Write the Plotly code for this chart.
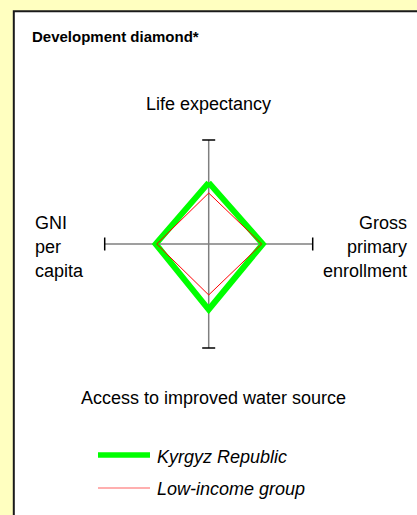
import plotly.graph_objects as go

# ---- data ----
axis_labels = ["Life expectancy", "Gross primary enrollment",
               "Access to improved water source", "GNI per capita"]
series_names = ["Kyrgyz Republic", "Low-income group"]
kyrgyz_values = [0.59, 0.52, 0.63, 0.51]      # life, enrollment, water, GNI
lowincome_values = [0.49, 0.51, 0.49, 0.50]
axis_extent = 1.0

W, H = 417, 515
CX, CY, SCALE = 208.7, 244.0, 104.0  # pixel centre of the diamond and px per unit

def px(x):
    return x / W

def py(y):
    return 1 - y / H

def diamond(vals):
    life, enr, water, gni = vals
    xs = [0, enr, 0, -gni, 0]
    ys = [life, 0, -water, 0, life]
    return xs, ys

fig = go.Figure()

# axes
axis_style = dict(color="#7f7f7f", width=1.5)
fig.add_trace(go.Scatter(x=[-axis_extent, axis_extent], y=[0, 0], mode="lines",
                         line=axis_style, hoverinfo="skip", showlegend=False))
fig.add_trace(go.Scatter(x=[0, 0], y=[-axis_extent, axis_extent], mode="lines",
                         line=axis_style, hoverinfo="skip", showlegend=False))
cap = 6.5 / SCALE
cap_style = dict(color="#000000", width=1.5)
for x0, y0, x1, y1 in [(-cap, axis_extent, cap, axis_extent),
                       (-cap, -axis_extent, cap, -axis_extent),
                       (-axis_extent, -cap, -axis_extent, cap),
                       (axis_extent, -cap, axis_extent, cap)]:
    fig.add_trace(go.Scatter(x=[x0, x1], y=[y0, y1], mode="lines", line=cap_style,
                             hoverinfo="skip", showlegend=False))

gx, gy = diamond(kyrgyz_values)
fig.add_trace(go.Scatter(x=gx, y=gy, mode="lines", name=series_names[0],
                         line=dict(color="#00ff00", width=6), showlegend=False))
rx, ry = diamond(lowincome_values)
fig.add_trace(go.Scatter(x=rx, y=ry, mode="lines", name=series_names[1],
                         line=dict(color="#ff0000", width=1), showlegend=False))

# panel
shapes = [dict(type="rect", xref="paper", yref="paper", x0=px(13.8), x1=px(440),
               y0=py(11.3), y1=py(540), fillcolor="white",
               line=dict(color="#1a1a1a", width=2), layer="below")]
# legend lines
shapes.append(dict(type="line", xref="paper", yref="paper", x0=px(98), x1=px(150),
                   y0=py(455), y1=py(455), line=dict(color="#00ff00", width=5.5)))
shapes.append(dict(type="line", xref="paper", yref="paper", x0=px(98), x1=px(150),
                   y0=py(488), y1=py(488), line=dict(color="#ff6060", width=1.2)))

FONT = "Liberation Sans, Arial, sans-serif"
def ann(text, x, y, xanchor="center", size=18, bold=False, italic=False):
    t = text
    if bold:
        t = "<b>" + t + "</b>"
    if italic:
        t = "<i>" + t + "</i>"
    return dict(text=t, x=px(x), y=py(y), xref="paper", yref="paper",
                xanchor=xanchor, yanchor="middle", showarrow=False,
                font=dict(family=FONT, size=size, color="black"))

annotations = [
    ann("Development diamond*", 29.5, 36.5, "left", size=15, bold=True),
    ann(axis_labels[0], 208, 104, "center"),
    ann(axis_labels[2], 213.5, 398, "center"),
]
gni_lines = ["GNI", "per", "capita"]
enr_lines = ["Gross", "primary", "enrollment"]
for i, yy in enumerate([222.5, 247, 271]):
    annotations.append(ann(gni_lines[i], 32.5, yy, "left"))
    annotations.append(ann(enr_lines[i], 408.5, yy, "right"))
annotations.append(ann(series_names[0], 154.5, 457, "left", italic=True))
annotations.append(ann(series_names[1], 154.5, 489, "left", italic=True))

fig.update_layout(
    width=W, height=H, margin=dict(l=0, r=0, t=0, b=0),
    paper_bgcolor="#ffffc0", plot_bgcolor="rgba(0,0,0,0)",
    xaxis=dict(range=[-CX / SCALE, (W - CX) / SCALE], visible=False, fixedrange=True),
    yaxis=dict(range=[-(H - CY) / SCALE, CY / SCALE], visible=False, fixedrange=True),
    shapes=shapes, annotations=annotations, showlegend=False,
)

fig.write_html("out.html", config={"displayModeBar": False},
               post_script="document.body.style.margin='0';document.body.style.overflow='hidden';")
